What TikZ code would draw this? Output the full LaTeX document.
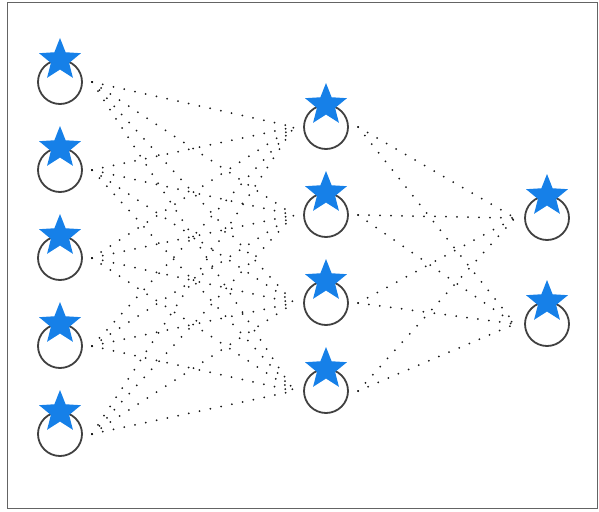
\documentclass[tikz,border=0pt]{standalone}
\usetikzlibrary{shapes.geometric}
\definecolor{starblue}{RGB}{22,128,232}
\definecolor{ringgray}{RGB}{64,64,64}
\definecolor{framegray}{RGB}{100,100,100}
\begin{document}
\begin{tikzpicture}[x=1pt,y=-1pt,
  unit/.style={circle,draw=ringgray,line width=1.8pt,minimum size=44pt,inner sep=0pt,outer sep=10pt},
  starmark/.style={star,star points=5,star point ratio=2.3,fill=starblue,draw=none,minimum size=44pt,inner sep=0pt},
  link/.style={draw=black!90,line width=2pt,line cap=round,dash pattern=on 0pt off 11pt}]
  % page and frame
  \useasboundingbox (0,0) rectangle (599,511);
  \draw[framegray,line width=1.3pt] (7.5,2.5) rectangle (597.5,508.5);
  % input layer
  \foreach \i/\y in {1/82,2/170,3/258,4/346,5/434}
    \node[unit] (L\i) at (60,\y) {};
  % hidden layer
  \foreach \i/\y in {1/127,2/215,3/303,4/391}
    \node[unit] (M\i) at (326,\y) {};
  % output layer
  \foreach \i/\y in {1/218,2/324}
    \node[unit] (R\i) at (547,\y) {};
  % connections
  \foreach \i in {1,...,5}
    \foreach \j in {1,...,4}
      \draw[link] (L\i.east) -- (M\j.west);
  \foreach \j in {1,...,4}
    \foreach \k in {1,2}
      \draw[link] (M\j.east) -- (R\k.west);
  % star marks
  \foreach \i/\y in {1/82,2/170,3/258,4/346,5/434}
    \node[starmark] (SL\i) at (60,\y-22) {};
  \foreach \i/\y in {1/127,2/215,3/303,4/391}
    \node[starmark] (SM\i) at (326,\y-22) {};
  \foreach \i/\y in {1/218,2/324}
    \node[starmark] (SR\i) at (547,\y-22) {};
\end{tikzpicture}
\end{document}
